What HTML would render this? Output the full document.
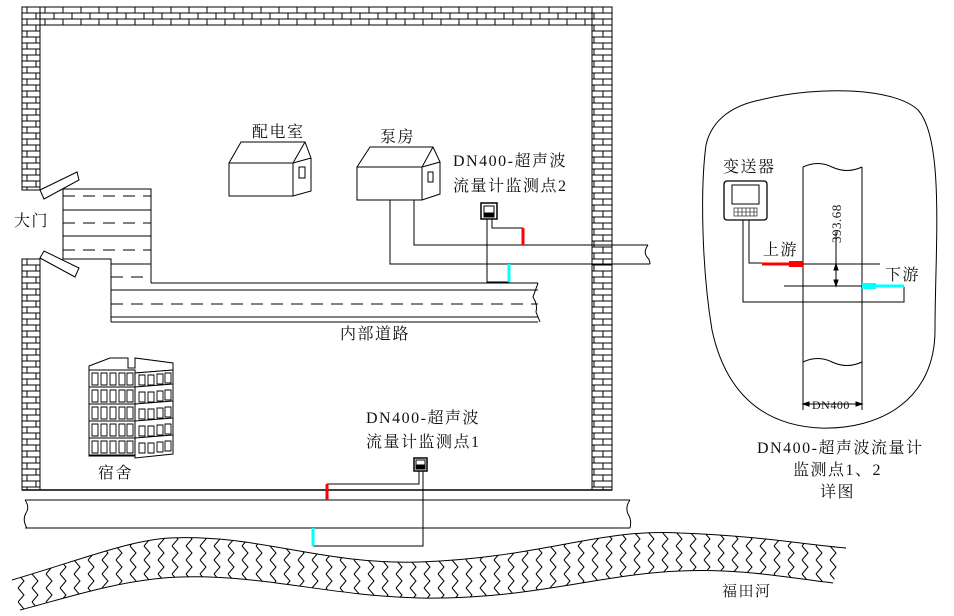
<!DOCTYPE html>
<html><head><meta charset="utf-8"><style>
html,body{margin:0;padding:0;background:#fff;}
svg{display:block;}
text{font-family:"Liberation Serif","Noto Serif CJK SC",serif;fill:#111;}
</style></head><body>
<svg width="954" height="616" viewBox="0 0 954 616" xmlns="http://www.w3.org/2000/svg">
<defs>
<pattern id="brick" x="0" y="7" width="18" height="12" patternUnits="userSpaceOnUse">
<rect width="18" height="12" fill="#fff"/>
<path d="M0,0H18M0,6H18M0,12H18M9,0V6M0,6V12M18,6V12" stroke="#000" stroke-width="1" fill="none"/>
</pattern>
<pattern id="zig" x="0" y="0" width="14" height="14" patternUnits="userSpaceOnUse">
<path d="M4,0 L10,7 L4,14" stroke="#000" stroke-width="1" fill="none"/>
</pattern>
</defs>
<g stroke="#000" stroke-width="1">
<rect x="22" y="7" width="590" height="18" fill="url(#brick)"/>
<rect x="22" y="7" width="18" height="183" fill="url(#brick)"/>
<rect x="22" y="259" width="18" height="231" fill="url(#brick)"/>
<rect x="592" y="7" width="20" height="483" fill="url(#brick)"/>
<path d="M40,25H592V490M40,25V190M40,259V490M22,7H612V490" fill="none"/>
<line x1="22" y1="490" x2="612" y2="490" stroke-width="1.5"/>
<polygon points="40,190 77,172 79,180 44,199" fill="#fff"/>
<polygon points="40,258 44,251 79,268 75,277" fill="#fff"/>
<path d="M63,189H151V283M63,189V259H111V322M63,210H151M63,236H151M111,264H151M151,283H538M111,290H538M111,317H538M111,322H538" fill="none"/>
<path d="M63,196H151M63,223H151M63,250H151M111,277H151M111,304H538" stroke-dasharray="12,8" fill="none"/>
<path d="M538,283 L533,297 Q538,305 536,312 L540,322" fill="none"/>
<path d="M229,163H293V196H229Z M229,163L241,142H305L311,158L293,163 M305,142L293,163 M293,196L311,191V158" fill="#fff"/>
<rect x="299" y="167" width="6" height="11" fill="none"/>
<path d="M357,167H422V200H357Z M357,167L370,147H433L440,162L422,167 M433,147L422,167 M422,200L440,194V162" fill="#fff"/>
<rect x="428" y="172" width="5" height="10" fill="none"/>
<path d="M414,200V245H648 M390,200V264H650" fill="none"/>
<path d="M648,245 Q643,252 647,257 Q650,260 650,264" fill="none"/>
<rect x="481" y="203" width="16" height="16" fill="#fff" stroke-width="1.5"/>
<rect x="484" y="206" width="10" height="7" fill="#fff"/>
<rect x="484" y="213" width="10" height="4" fill="#000"/>
<path d="M492,219V228H523 M487,219V282H509" fill="none"/>
<path d="M25,500H630 M25,528H630" fill="none"/>
<path d="M25,500 Q30,507 26,513 Q22,520 27,528" fill="none"/>
<path d="M630,500 Q625,507 628,514 Q632,520 630,528" fill="none"/>
<rect x="414" y="458" width="13" height="13" fill="#fff" stroke-width="1.5"/>
<rect x="416" y="460" width="9" height="5" fill="#fff"/>
<rect x="416" y="465" width="9" height="4" fill="#000"/>
<path d="M419,471V484H327 M423,471V546H313" fill="none"/>
<g fill="#fff">
<path d="M89,366L110,358H128V368H135V358L173,363V370L135,373L89,370Z"/>
<rect x="89" y="370" width="46" height="86"/>
<path d="M135,373L173,370V454L135,458Z"/>
</g>
<path d="M89,387H135L173,384M89,404H135L173,401M89,421H135L173,418M89,438H135L173,435M89,455H135" fill="none"/>
<g fill="none" stroke-width="0.9">
<path d="M92,373h6v12h-6zM101,373h6v12h-6zM110,373h6v12h-6zM119,373h6v12h-6zM127,373h6v12h-6z"/>
<path d="M92,390h6v12h-6zM101,390h6v12h-6zM110,390h6v12h-6zM119,390h6v12h-6zM127,390h6v12h-6z"/>
<path d="M92,407h6v12h-6zM101,407h6v12h-6zM110,407h6v12h-6zM119,407h6v12h-6zM127,407h6v12h-6z"/>
<path d="M92,424h6v12h-6zM101,424h6v12h-6zM110,424h6v12h-6zM119,424h6v12h-6zM127,424h6v12h-6z"/>
<path d="M92,441h6v12h-6zM101,441h6v12h-6zM110,441h6v12h-6zM119,441h6v12h-6zM127,441h6v12h-6z"/>
<path d="M139,375h6v10h-6zM148,375h6v10h-6zM157,374h6v10h-6zM165,373h6v10h-6z"/>
<path d="M139,392h6v10h-6zM148,392h6v10h-6zM157,391h6v10h-6zM165,390h6v10h-6z"/>
<path d="M139,409h6v10h-6zM148,409h6v10h-6zM157,408h6v10h-6zM165,407h6v10h-6z"/>
<path d="M139,426h6v10h-6zM148,426h6v10h-6zM157,425h6v10h-6zM165,424h6v10h-6z"/>
<path d="M139,443h6v10h-6zM148,443h6v10h-6zM157,442h6v10h-6zM165,441h6v10h-6z"/>
</g>
<path d="M12,580 C80,560 130,540 170,538 C260,534 320,565 420,562 C540,558 600,528 680,533 C760,536 800,544 846,548 L833,583 C790,578 740,568 680,571 C600,574 530,600 420,598 C330,596 260,574 180,577 C120,579 60,600 20,610 Z" fill="url(#zig)" stroke="none"/>
<path d="M12,580 C80,560 130,540 170,538 C260,534 320,565 420,562 C540,558 600,528 680,533 C760,536 800,544 846,548 M20,610 C60,600 120,579 180,577 C260,574 330,596 420,598 C530,600 600,574 680,571 C740,568 790,578 833,583" fill="none"/>
<path d="M760,100 C820,85 895,88 918,110 C945,140 935,250 935,330 C935,400 880,430 820,428 C760,425 725,390 712,330 C702,270 700,190 706,145 C712,118 735,105 760,100 Z" fill="none"/>
<path d="M803,167V410 M862,167V410" fill="none"/>
<path d="M803,167 Q818,160 832,167 Q847,174 862,167 M803,362 Q818,355 832,362 Q847,369 862,362" fill="none"/>
<path d="M803,404H862" fill="none"/>
<path d="M803,404l6,-2v4z M862,404l-6,-2v4z" fill="#000"/>
<rect x="724" y="181" width="43" height="39" rx="3" fill="#fff" stroke-width="1.3"/>
<rect x="732" y="185" width="27" height="19" fill="#fff"/>
<rect x="734" y="208" width="23" height="8" fill="#fff" stroke-width="0.6"/>
<path d="M738,208v8M742,208v8M746,208v8M750,208v8M754,208v8M734,212h23" stroke-width="0.6"/>
<path d="M749,220V263H762 M743,220V302H904V287" fill="none"/>
<path d="M803,264H880 M784,286H862" fill="none"/>
<path d="M836,232V286" fill="none"/>
<path d="M836,264l-2,6h4z M836,286l-2,-6h4z" fill="#000"/>
</g>
<g stroke-width="3">
<line x1="327" y1="484" x2="327" y2="500" stroke="#f00"/>
<line x1="313" y1="528" x2="313" y2="546" stroke="#0ff"/>
<line x1="523" y1="228" x2="523" y2="245" stroke="#f00"/>
<line x1="509" y1="264" x2="509" y2="282" stroke="#0ff"/>
<line x1="762" y1="264" x2="803" y2="264" stroke="#f00"/>
<line x1="862" y1="286" x2="904" y2="286" stroke="#0ff"/>
</g>
<rect x="789" y="261" width="14" height="6" fill="#f00"/>
<rect x="862" y="283" width="14" height="6" fill="#0ff"/>
<g font-size="16" letter-spacing="1.5">
<text x="252" y="137">配电室</text>
<text x="380" y="142">泵房</text>
<text x="453" y="166">DN400-超声波</text>
<text x="453" y="191">流量计监测点2</text>
<text x="14" y="226">大门</text>
<text x="340" y="339">内部道路</text>
<text x="98" y="478">宿舍</text>
<text x="366" y="423">DN400-超声波</text>
<text x="366" y="447">流量计监测点1</text>
<text x="723" y="172">变送器</text>
<text x="763" y="255">上游</text>
<text x="885" y="280">下游</text>
<text x="757" y="453">DN400-超声波流量计</text>
<text x="793" y="475">监测点1、2</text>
<text x="820" y="497">详图</text>
<text x="722" y="596" font-size="15">福田河</text>
<text x="812" y="409" font-size="12" letter-spacing="0.5" font-family="Liberation Sans, sans-serif">DN400</text>
<text transform="translate(841,243) rotate(-90)" font-size="13" letter-spacing="0.5" font-family="Liberation Sans, sans-serif">393.68</text>
</g>
</svg>
</body></html>
